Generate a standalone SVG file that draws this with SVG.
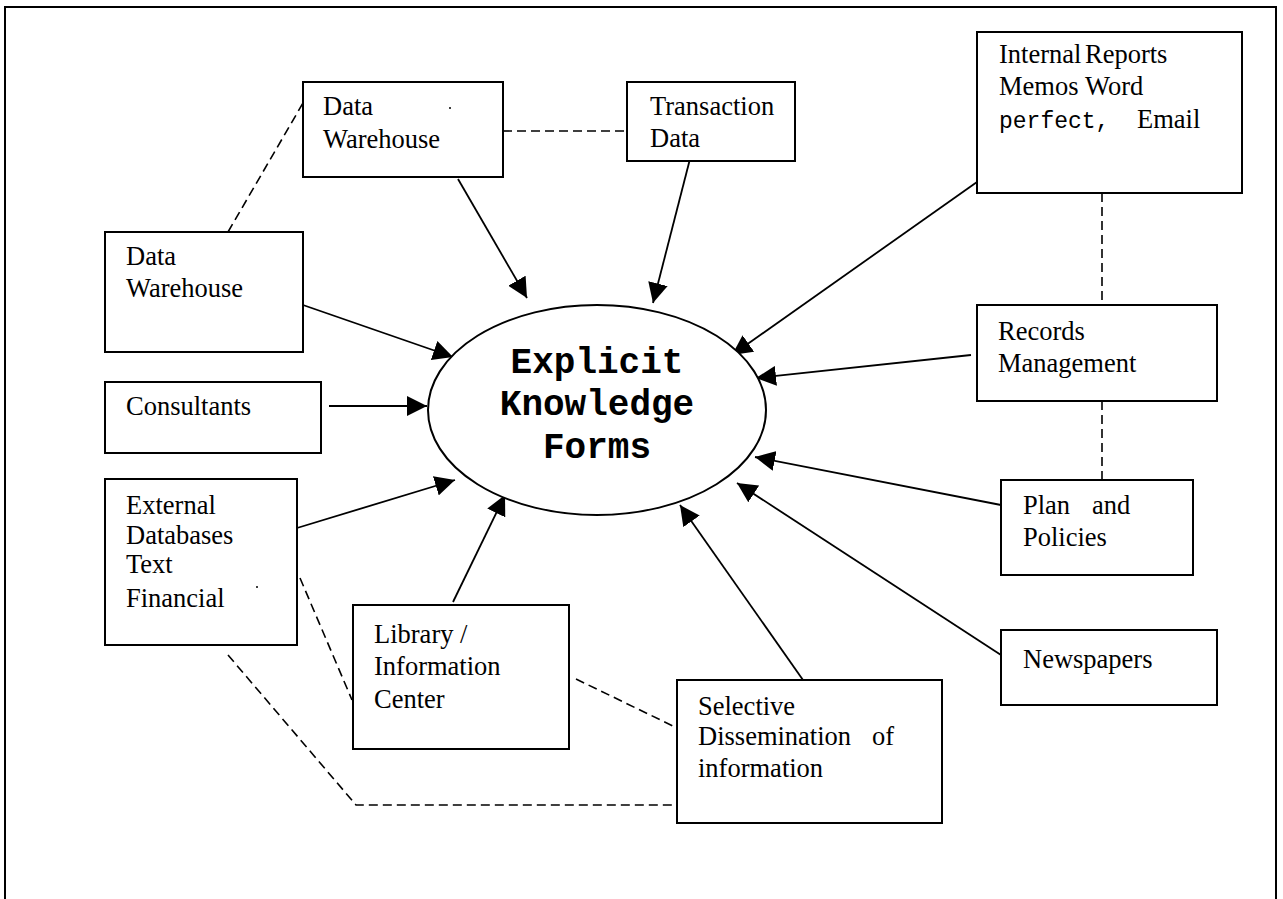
<svg xmlns="http://www.w3.org/2000/svg" width="1283" height="899" viewBox="0 0 1283 899">
<style>
.box{fill:#fff;stroke:#000;stroke-width:2}
.t{font-family:"Liberation Serif","Times New Roman",serif;font-size:26.5px;fill:#000}
.m{font-family:"Liberation Mono","Courier New",monospace;font-size:23px;fill:#000}
.big{font-family:"Liberation Mono","Courier New",monospace;font-size:36px;font-weight:bold;fill:#000}
.arr{stroke:#000;stroke-width:1.8;fill:none;marker-end:url(#ah)}
.dash{stroke:#000;stroke-width:1.6;fill:none;stroke-dasharray:9 5}
</style>
<defs>
<marker id="ah" markerUnits="userSpaceOnUse" markerWidth="22" markerHeight="20" refX="20" refY="10" orient="auto" viewBox="0 0 22 20">
<path d="M0,0 L20,10 L0,20 z" fill="#000"/>
</marker>
</defs>
<rect width="1283" height="899" fill="#fff"/>
<rect x="5" y="7" width="1271" height="910" fill="none" stroke="#000" stroke-width="2"/>

<g id="connectors">
<line class="dash" x1="503" y1="131" x2="627" y2="131"/>
<line class="dash" x1="228" y1="232" x2="303" y2="103"/>
<line class="dash" x1="1102" y1="193" x2="1102" y2="305"/>
<line class="dash" x1="1102" y1="401" x2="1102" y2="480"/>
<line class="dash" x1="300" y1="578" x2="352" y2="700"/>
<line class="dash" x1="576" y1="679" x2="675" y2="727"/>
<polyline class="dash" points="228,655 356,805 677,805"/>
<line class="arr" x1="458" y1="179" x2="527" y2="298"/>
<line class="arr" x1="691" y1="155" x2="653" y2="303"/>
<line class="arr" x1="977" y1="182" x2="732" y2="355"/>
<line class="arr" x1="303" y1="305" x2="453" y2="357"/>
<line class="arr" x1="329" y1="406" x2="427" y2="406"/>
<line class="arr" x1="297" y1="528" x2="455" y2="480"/>
<line class="arr" x1="453" y1="602" x2="505" y2="495"/>
<line class="arr" x1="803" y1="680" x2="680" y2="505"/>
<line class="arr" x1="971" y1="355" x2="756" y2="378"/>
<line class="arr" x1="1001" y1="505" x2="755" y2="457"/>
<line class="arr" x1="1001" y1="655" x2="737" y2="483"/>
</g>

<g id="center">
<ellipse cx="597" cy="410" rx="169" ry="105" fill="#fff" stroke="#000" stroke-width="2"/>
<text class="big" x="597" y="373" text-anchor="middle">Explicit</text>
<text class="big" x="597" y="415" text-anchor="middle">Knowledge</text>
<text class="big" x="597" y="458" text-anchor="middle">Forms</text>
</g>

<g id="data-warehouse-top">
<rect class="box" x="303" y="82" width="200" height="95"/>
<text class="t" x="323" y="115">Data</text>
<text class="t" x="323" y="148">Warehouse</text>
<circle cx="450" cy="108" r="1" fill="#000"/>
</g>

<g id="transaction-data">
<rect class="box" x="627" y="82" width="168" height="79"/>
<text class="t" x="650" y="115">Transaction</text>
<text class="t" x="650" y="147">Data</text>
</g>

<g id="internal-reports">
<rect class="box" x="977" y="32" width="265" height="161"/>
<text class="t" x="999" y="63">Internal</text>
<text class="t" x="1085" y="63">Reports</text>
<text class="t" x="999" y="95">Memos</text>
<text class="t" x="1085" y="95">Word</text>
<text class="m" x="999" y="128">perfect,</text>
<text class="t" x="1137" y="128">Email</text>
</g>

<g id="data-warehouse-left">
<rect class="box" x="105" y="232" width="198" height="120"/>
<text class="t" x="126" y="265">Data</text>
<text class="t" x="126" y="297">Warehouse</text>
</g>

<g id="consultants">
<rect class="box" x="105" y="382" width="216" height="71"/>
<text class="t" x="126" y="415">Consultants</text>
</g>

<g id="external-databases">
<rect class="box" x="105" y="479" width="192" height="166"/>
<text class="t" x="126" y="514">External</text>
<text class="t" x="126" y="544">Databases</text>
<text class="t" x="126" y="573">Text</text>
<text class="t" x="126" y="607">Financial</text>
<circle cx="257" cy="587" r="1" fill="#000"/>
</g>

<g id="library">
<rect class="box" x="353" y="605" width="216" height="144"/>
<text class="t" x="374" y="643">Library /</text>
<text class="t" x="374" y="675">Information</text>
<text class="t" x="374" y="708">Center</text>
</g>

<g id="selective-dissemination">
<rect class="box" x="677" y="680" width="265" height="143"/>
<text class="t" x="698" y="715">Selective</text>
<text class="t" x="698" y="745">Dissemination</text>
<text class="t" x="872" y="745">of</text>
<text class="t" x="698" y="777">information</text>
</g>

<g id="records-management">
<rect class="box" x="977" y="305" width="240" height="96"/>
<text class="t" x="998" y="340">Records</text>
<text class="t" x="998" y="372">Management</text>
</g>

<g id="plan-policies">
<rect class="box" x="1001" y="480" width="192" height="95"/>
<text class="t" x="1023" y="514">Plan</text>
<text class="t" x="1092" y="514">and</text>
<text class="t" x="1023" y="546">Policies</text>
</g>

<g id="newspapers">
<rect class="box" x="1001" y="630" width="216" height="75"/>
<text class="t" x="1023" y="668">Newspapers</text>
</g>
</svg>
